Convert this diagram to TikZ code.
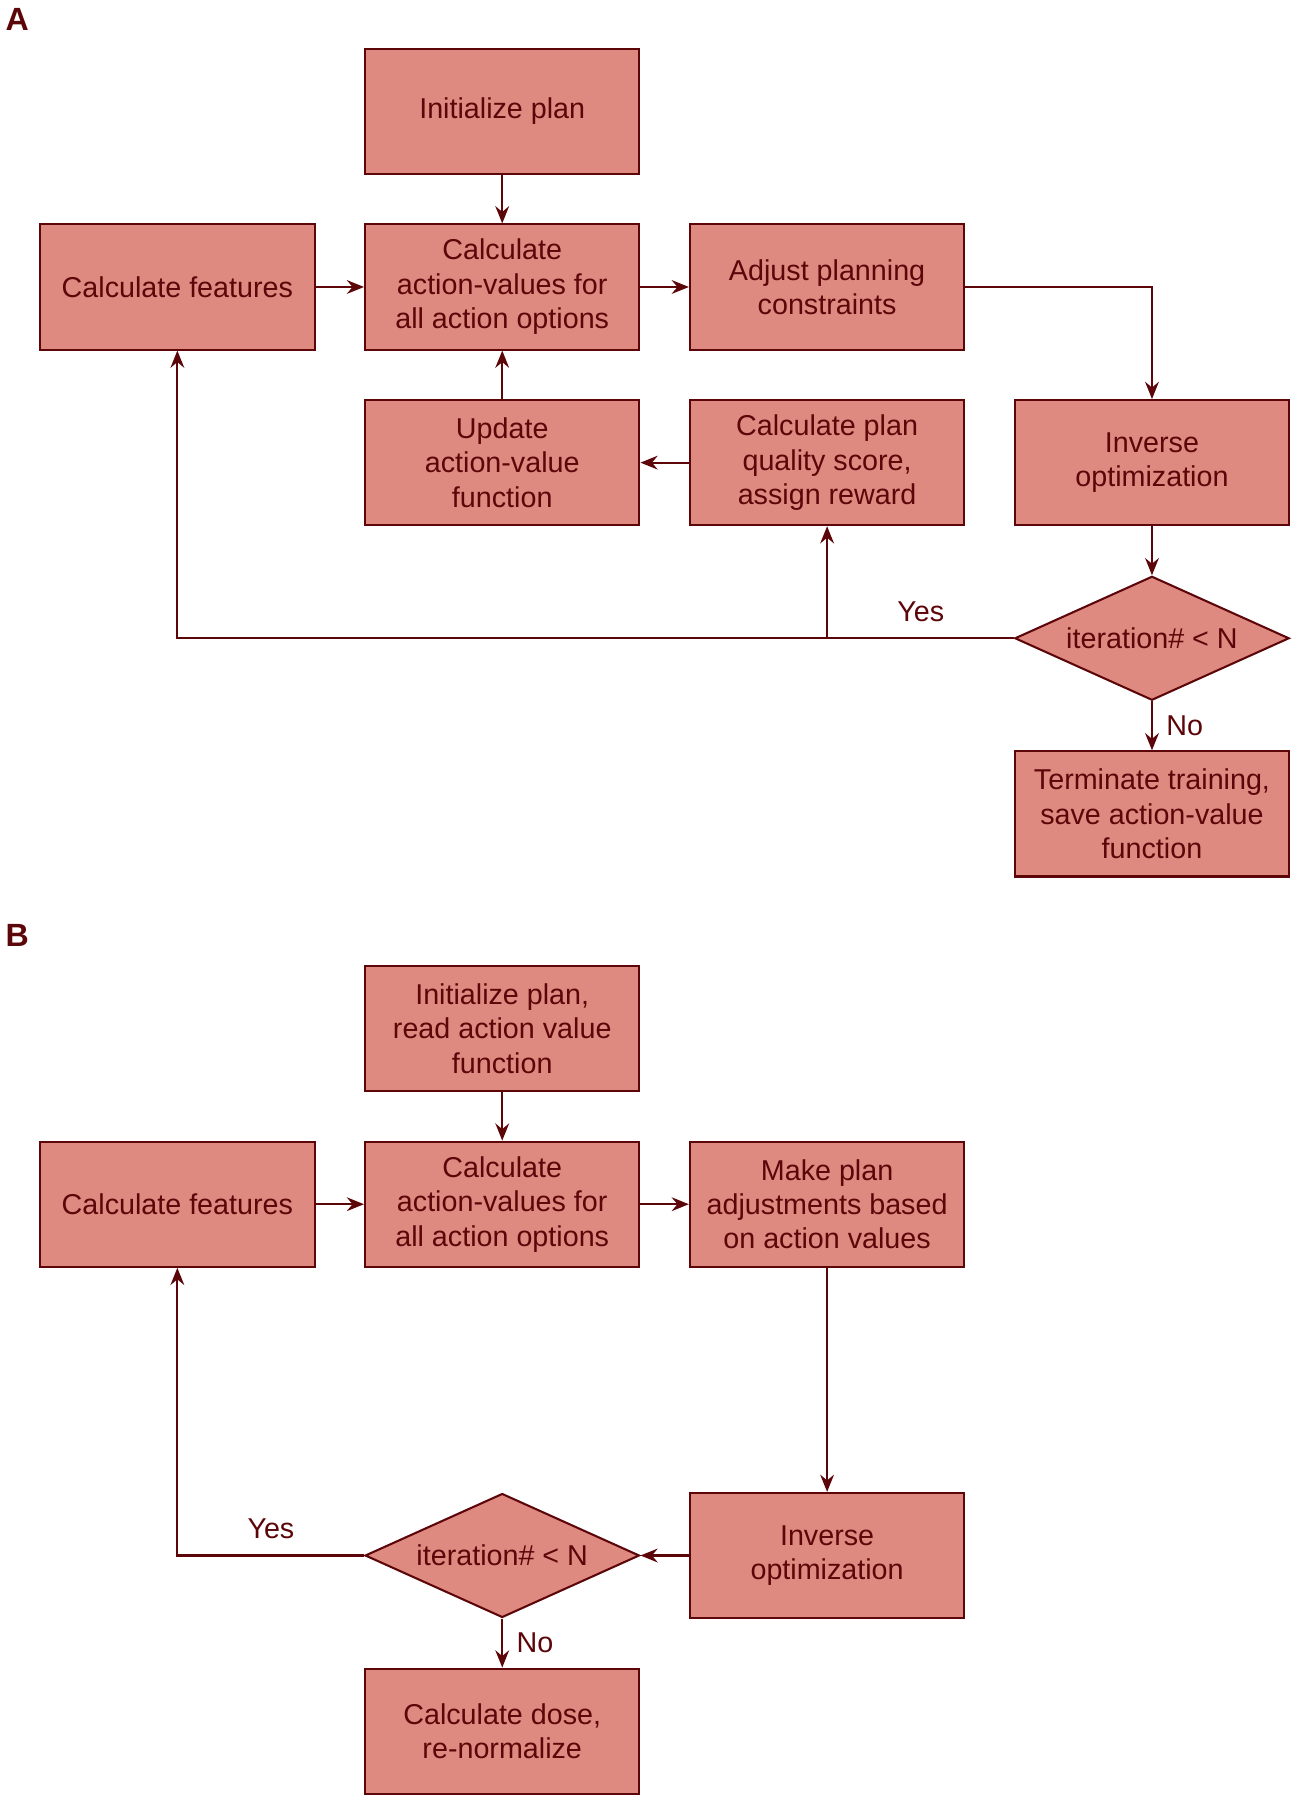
\documentclass[tikz,border=0pt]{standalone}
\usepackage{fontspec}
\setmainfont{Liberation Sans}
\usetikzlibrary{shapes.geometric,arrows.meta}
\definecolor{boxfill}{RGB}{223,138,128}
\definecolor{ink}{RGB}{92,6,10}
\tikzset{
  box/.style={draw=ink, fill=boxfill, line width=1.8pt, minimum width=239pt, minimum height=109pt,
    inner sep=0pt, text=ink, align=center, font=\fontsize{25}{30}\selectfont},
  dec/.style={draw=ink, fill=boxfill, line width=1.8pt, diamond, aspect=2.213, minimum width=239pt, minimum height=108pt,
    inner sep=0pt, text=ink, font=\fontsize{25}{30}\selectfont},
  conn/.style={draw=ink, line width=1.8pt, -{Stealth[length=15pt,width=12pt,inset=5pt]}},
  lbl/.style={text=ink, font=\fontsize{25}{30}\selectfont, inner sep=0pt},
  panel/.style={text=ink, font=\fontsize{28}{30}\selectfont\bfseries, inner sep=0pt}
}
\begin{document}
\begin{tikzpicture}[x=1pt,y=-1pt]
\useasboundingbox (0,0) rectangle (1129,1568);
% Panel A
\node[panel] (pA) at (15,17) {A};
\node[box] (init) at (437.5,97) {Initialize plan};
\node[box] (calc) at (437.5,250) {Calculate\\action-values for\\all action options};
\node[box] (feat) at (154.5,250) {Calculate features};
\node[box] (adj) at (720.5,250) {Adjust planning\\constraints};
\node[box] (upd) at (437.5,403) {Update\\action-value\\function};
\node[box] (qual) at (720.5,403) {Calculate plan\\quality score,\\assign reward};
\node[box] (inv) at (1003.5,403) {Inverse\\optimization};
\node[dec] (dia) at (1003.5,556) {iteration\# < N};
\node[box] (term) at (1003.5,709) {Terminate training,\\save action-value\\function};
\node[lbl] (yesA) at (802,533) {Yes};
\node[lbl] (noA) at (1032,632) {No};
\coordinate (jA) at (qual |- dia);
\draw[conn] (init) -- (calc);
\draw[conn] (feat) -- (calc);
\draw[conn] (calc) -- (adj);
\draw[conn] (adj.east) -| (inv.north);
\draw[conn] (upd) -- (calc);
\draw[conn] (qual) -- (upd);
\draw[conn] (inv) -- (dia);
\draw[conn] (dia.west) -| (feat.south);
\draw[conn] (jA) -- (qual.south);
\draw[conn] (dia) -- (term);
% Panel B
\node[panel] (pB) at (15,815) {B};
\node[box] (init2) at (437.5,896) {Initialize plan,\\read action value\\function};
\node[box] (calc2) at (437.5,1049) {Calculate\\action-values for\\all action options};
\node[box] (feat2) at (154.5,1049) {Calculate features};
\node[box] (make) at (720.5,1049) {Make plan\\adjustments based\\on action values};
\node[box] (inv2) at (720.5,1355) {Inverse\\optimization};
\node[dec] (dia2) at (437.5,1355) {iteration\# < N};
\node[box] (dose) at (437.5,1508) {Calculate dose,\\re-normalize};
\node[lbl] (yesB) at (236,1332) {Yes};
\node[lbl] (noB) at (466,1431) {No};
\draw[conn] (init2) -- (calc2);
\draw[conn] (feat2) -- (calc2);
\draw[conn] (calc2) -- (make);
\draw[conn] (make) -- (inv2);
\draw[conn] (inv2) -- (dia2);
\draw[conn] (dia2.west) -| (feat2.south);
\draw[conn] (dia2) -- (dose);
\end{tikzpicture}
\end{document}
